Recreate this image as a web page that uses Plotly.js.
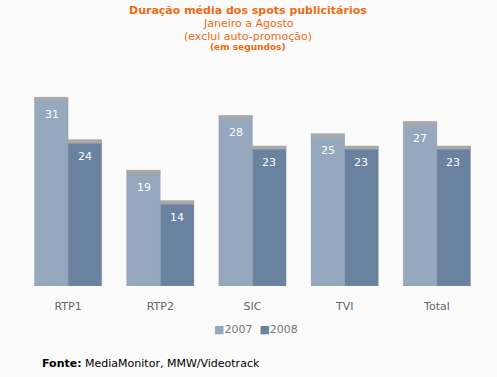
<!DOCTYPE html>
<html><head><meta charset="utf-8">
<script src="https://cdn.plot.ly/plotly-3.0.1.min.js"></script>
<style>body{margin:0;background:#fbfbfb}#c{width:497px;height:377px}</style>
</head><body><div id="c"></div>
<script>
const categories = ["RTP1", "RTP2", "SIC", "TVI", "Total"];
const values2007 = [31, 19, 28, 25, 27];
const values2008 = [24, 14, 23, 23, 23];
const seriesNames = ["2007", "2008"];
const colors = ["#95a8be", "#68829f"];

const font = "DejaVu Sans, Verdana, sans-serif";
const CAP = 0.6;
function body(name, vals, color, grp) {
  return {
    type: "bar", name: name, x: categories, y: vals, offsetgroup: grp,
    marker: {color: color, line: {color: "rgba(150,150,150,0.3)", width: 1}},
    hoverinfo: "skip", showlegend: false
  };
}
function cap(vals, grp) {
  return {
    type: "bar", x: categories, y: vals.map(() => CAP), base: vals.map(v => v - CAP), offsetgroup: grp,
    marker: {color: "#a8a8a8", line: {width: 0}}, hoverinfo: "skip", showlegend: false
  };
}
const data = [
  body(seriesNames[0], values2007, colors[0], "a"), body(seriesNames[1], values2008, colors[1], "b"),
  cap(values2007, "a"), cap(values2008, "b")
];
const orange = "#f26a10";
const annotations = [];
[values2007, values2008].forEach((vals, s) => {
  vals.forEach((v, i) => annotations.push({
    x: categories[i], y: v, xref: "x", yref: "y", text: String(v), showarrow: false,
    xshift: s === 0 ? -16.5 : 16.5, yshift: -17, yanchor: "middle",
    font: {size: 11, color: "#ffffff", family: font}
  }));
});
const plotH = 377 - 85 - 91;
function py(pix) { return (377 - 91 - pix) / plotH; }
function px(pix) { return (pix - 22) / (497 - 22 - 14); }
annotations.push(
  {text: "<b>Duração média dos spots publicitários</b>", xref: "paper", yref: "paper", x: px(248), y: py(11), yanchor: "middle", showarrow: false, font: {size: 11, color: orange}},
  {text: "Janeiro a Agosto", xref: "paper", yref: "paper", x: px(248), y: py(24), yanchor: "middle", showarrow: false, font: {size: 11, color: orange}},
  {text: "(exclui auto-promoção)", xref: "paper", yref: "paper", x: px(248), y: py(36), yanchor: "middle", showarrow: false, font: {size: 11, color: orange}},
  {text: "<b>(em segundos)</b>", xref: "paper", yref: "paper", x: px(248), y: py(47), yanchor: "middle", showarrow: false, font: {size: 9, color: orange}},
  {text: '<span style="color:' + colors[0] + '">■</span>' + seriesNames[0] + '  <span style="color:' + colors[1] + '">■</span>' + seriesNames[1],
   xref: "paper", yref: "paper", x: px(256), y: py(329), yanchor: "middle", showarrow: false, font: {size: 11, color: "#777"}},
  {text: "<b>Fonte:</b> MediaMonitor, MMW/Videotrack", xref: "paper", yref: "paper", x: px(40), xanchor: "left", y: py(363), yanchor: "middle", showarrow: false, font: {size: 11, color: "#000"}}
);
const layout = {
  width: 497, height: 377,
  paper_bgcolor: "#fbfbfb", plot_bgcolor: "#fbfbfb",
  margin: {l: 22, r: 14, t: 85, b: 91},
  barmode: "group", bargap: 0.27, bargroupgap: 0,
  font: {family: font, size: 11, color: "#555"},
  xaxis: {showgrid: false, zeroline: false, showline: false, ticks: "", ticklabelstandoff: 12, tickfont: {size: 11, color: "#666"}, range: [-0.5, 4.5]},
  yaxis: {range: [0, 33], visible: false, showgrid: false, zeroline: false},
  showlegend: false,
  annotations: annotations
};
Plotly.newPlot("c", data, layout, {staticPlot: true});
</script></body></html>
